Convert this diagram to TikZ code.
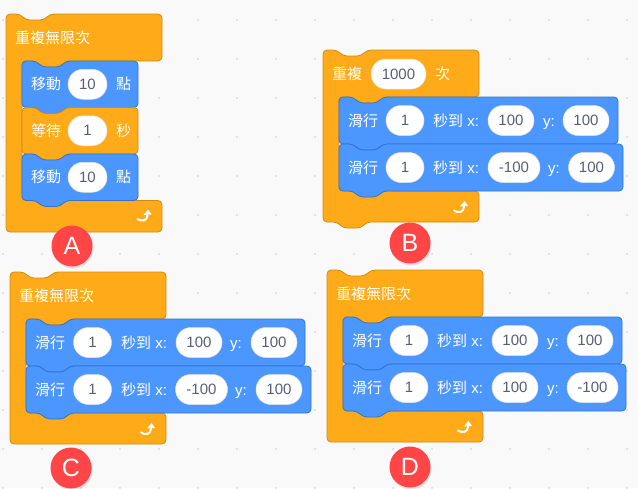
\documentclass[tikz,border=0pt]{standalone}
\usepackage{fontspec}
\setmainfont{Liberation Sans}
\newfontfamily\cjk{Noto Sans CJK TC}
\usetikzlibrary{shadows}
\definecolor{ctrlfill}{HTML}{FFAB19}
\definecolor{ctrldraw}{HTML}{CF8B17}
\definecolor{motfill}{HTML}{4C97FF}
\definecolor{motdraw}{HTML}{3373CC}
\definecolor{numtxt}{HTML}{575E75}
\definecolor{tagred}{HTML}{FF4545}
\definecolor{canvas}{HTML}{F9F9F9}
\definecolor{dotgrey}{HTML}{DADADA}

% stack block: style, left, top, right, bottom
\newcommand{\stmt}[5]{%
  \draw[#1] (#2,#3) -- (#2+14,#3) -- (#2+20,#3+6) -- (#2+38,#3+6) -- (#2+44,#3)
    -- (#4,#3) -- (#4,#5) -- (#2+44,#5) -- (#2+38,#5+6) -- (#2+20,#5+6)
    -- (#2+14,#5) -- (#2,#5) -- cycle;}
% loop block: right, arm bottom, foot top, bottom, extra foot path
\newcommand{\loopblk}[5]{%
  \draw[ctrl] (0,0) -- (14,0) -- (20,6) -- (38,6) -- (44,0) -- (#1,0)
    -- (#1,#2) -- (60,#2) -- (54,#2+6) -- (36,#2+6) -- (30,#2) -- (16,#2)
    -- (16,#3) -- (#1,#3) -- (#1,#4) #5 -- (0,#4) -- cycle;}
% loop arrow icon
\newcommand{\loopicon}[2]{%
  \begin{scope}[shift={(#1,#2)}]
    \draw[white,line width=2pt,line cap=round] (-7,3) .. controls (-3,6) and (3,5) .. (3,-1);
    \fill[white] (-1,-1) -- (7,-1.5) -- (3.5,-6.5) -- cycle;
  \end{scope}}

\begin{document}
\begin{tikzpicture}[x=1pt,y=-1pt,line join=round,
    ctrl/.style={fill=ctrlfill,draw=ctrldraw,line width=.8pt,rounded corners=4pt},
    motion/.style={fill=motfill,draw=motdraw,line width=.8pt,rounded corners=4pt},
    lbl/.style={text=white,anchor=west,inner sep=0pt,text height=12.5pt,text depth=1.5pt,
      font=\fontsize{15}{18}\selectfont},
    pill/.style={fill=white,draw=black!12,line width=.5pt,rounded corners=15pt,
      minimum height=30pt,inner sep=0pt,text=numtxt,font=\fontsize{15}{18}\selectfont},
    tag/.style={circle,fill=tagred,text=white,minimum size=41pt,inner sep=0pt,
      font=\fontsize{25}{25}\selectfont,
      drop shadow={opacity=.2,shadow xshift=1pt,shadow yshift=-2pt}}]
    \fill[canvas] (0,0) rectangle (638,488);
    \useasboundingbox (0,0) rectangle (638,488);
    \foreach \i in {0,...,16}
      \foreach \j in {0,...,12}
        \fill[dotgrey] (3+39*\i,20+39*\j) circle (1.1pt);

    % A
    \begin{scope}[shift={(6,14)}]
      \loopblk{156}{47}{186.5}{218}{}
      \stmt{motion}{16}{47}{132}{93.5}
      \stmt{ctrl}{16}{93.5}{132}{140}
      \stmt{motion}{16}{140}{132}{186.5}
      \node[lbl] (aHead) at (9,24) {\cjk 重複無限次};
      \node[lbl] (a1) at (25,70.25) {\cjk 移動};
      \node[pill,minimum width=39pt] (a1n) at (81.5,70.25) {10};
      \node[lbl] (a1u) at (110,70.25) {\cjk 點};
      \node[lbl] (a2) at (25,116.75) {\cjk 等待};
      \node[pill,minimum width=39pt] (a2n) at (81.5,116.75) {1};
      \node[lbl] (a2u) at (110,116.75) {\cjk 秒};
      \node[lbl] (a3) at (25,163.25) {\cjk 移動};
      \node[pill,minimum width=39pt] (a3n) at (81.5,163.25) {10};
      \node[lbl] (a3u) at (110,163.25) {\cjk 點};
      \loopicon{138.5}{202}
      \node[tag] (tagA) at (66,232) {A};
    \end{scope}

    % B
    \begin{scope}[shift={(323,50)}]
      \loopblk{156}{47}{141}{172}{-- (44,172) -- (38,178) -- (20,178) -- (14,172)}
      \stmt{motion}{16}{47}{295}{94}
      \stmt{motion}{16}{94}{300}{141}
      \node[lbl] (bHead) at (9,24) {\cjk 重複};
      \node[pill,minimum width=55pt] (bHeadn) at (75.5,24) {1000};
      \node[lbl] (bHeadu) at (112,24) {\cjk 次};
      \node[lbl] (b1) at (25,70.5) {\cjk 滑行};
      \node[pill,minimum width=38pt] (b1t) at (82,70.5) {1};
      \node[lbl] (b1s) at (110,70.5) {{\cjk 秒到} x:};
      \node[pill,minimum width=46pt] (b1x) at (188,70.5) {100};
      \node[lbl] (b1y) at (220,70.5) {y:};
      \node[pill,minimum width=46pt] (b1yv) at (263,70.5) {100};
      \node[lbl] (b2) at (25,117.5) {\cjk 滑行};
      \node[pill,minimum width=38pt] (b2t) at (82,117.5) {1};
      \node[lbl] (b2s) at (110,117.5) {{\cjk 秒到} x:};
      \node[pill,minimum width=52pt] (b2x) at (191,117.5) {-100};
      \node[lbl] (b2y) at (225,117.5) {y:};
      \node[pill,minimum width=46pt] (b2yv) at (268.5,117.5) {100};
      \loopicon{138}{157.5}
      \node[tag] (tagB) at (87,193) {B};
    \end{scope}

    % C
    \begin{scope}[shift={(10,272)}]
      \loopblk{156}{47}{141}{172}{}
      \stmt{motion}{16}{47}{295}{94}
      \stmt{motion}{16}{94}{301}{141}
      \node[lbl] (cHead) at (9,24) {\cjk 重複無限次};
      \node[lbl] (c1) at (25,70.5) {\cjk 滑行};
      \node[pill,minimum width=38pt] (c1t) at (82.5,70.5) {1};
      \node[lbl] (c1s) at (111,70.5) {{\cjk 秒到} x:};
      \node[pill,minimum width=46pt] (c1x) at (189,70.5) {100};
      \node[lbl] (c1y) at (220,70.5) {y:};
      \node[pill,minimum width=46pt] (c1yv) at (264,70.5) {100};
      \node[lbl] (c2) at (25,117.5) {\cjk 滑行};
      \node[pill,minimum width=38pt] (c2t) at (82.5,117.5) {1};
      \node[lbl] (c2s) at (111,117.5) {{\cjk 秒到} x:};
      \node[pill,minimum width=52pt] (c2x) at (191.5,117.5) {-100};
      \node[lbl] (c2y) at (225,117.5) {y:};
      \node[pill,minimum width=46pt] (c2yv) at (269,117.5) {100};
      \loopicon{138}{157.5}
      \node[tag] (tagC) at (61,196) {C};
    \end{scope}

    % D
    \begin{scope}[shift={(327,270)}]
      \loopblk{156}{47}{141}{172}{}
      \stmt{motion}{16}{47}{295}{94}
      \stmt{motion}{16}{94}{299}{141}
      \node[lbl] (dHead) at (9,24) {\cjk 重複無限次};
      \node[lbl] (d1) at (25,70.5) {\cjk 滑行};
      \node[pill,minimum width=38pt] (d1t) at (82,70.5) {1};
      \node[lbl] (d1s) at (110,70.5) {{\cjk 秒到} x:};
      \node[pill,minimum width=46pt] (d1x) at (188,70.5) {100};
      \node[lbl] (d1y) at (220,70.5) {y:};
      \node[pill,minimum width=46pt] (d1yv) at (263,70.5) {100};
      \node[lbl] (d2) at (25,117.5) {\cjk 滑行};
      \node[pill,minimum width=38pt] (d2t) at (82,117.5) {1};
      \node[lbl] (d2s) at (110,117.5) {{\cjk 秒到} x:};
      \node[pill,minimum width=46pt] (d2x) at (188,117.5) {100};
      \node[lbl] (d2y) at (220,117.5) {y:};
      \node[pill,minimum width=51pt] (d2yv) at (265.5,117.5) {-100};
      \loopicon{138}{157.5}
      \node[tag] (tagD) at (83,197) {D};
    \end{scope}
\end{tikzpicture}
\end{document}
